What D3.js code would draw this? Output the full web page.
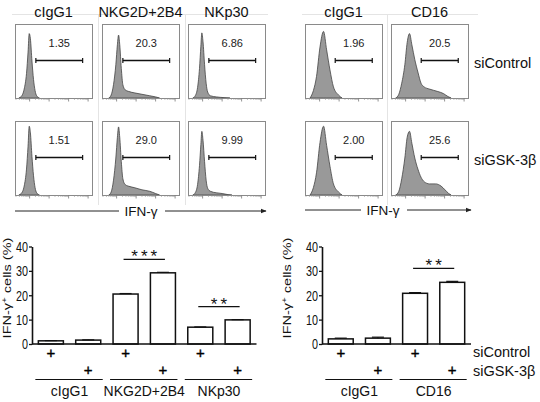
<!DOCTYPE html>
<html>
<head>
<meta charset="utf-8">
<script src="https://cdn.jsdelivr.net/npm/d3@7"></script>
<style>
body { margin: 0; background: #fff; }
svg { display: block; font-family: Arial, "Liberation Sans", sans-serif; }
</style>
</head>
<body>
<svg id="fig" width="540" height="402"></svg>
<script>
// ---- data ----
var markersL = ["cIgG1", "NKG2D+2B4", "NKp30"];
var markersR = ["cIgG1", "CD16"];
var siRNA = ["siControl", "siGSK-3\u03b2"];

// gate percentages, [row][panel]
var pctL = [["1.35", "20.3", "6.86"], ["1.51", "29.0", "9.99"]];
var pctR = [["1.96", "20.5"], ["2.00", "25.6"]];
// gate bounds, log10 IFN-g
var gateL = [2.32, 4.72];
var gateR = [2.8, 4.7];
var logTicks = [2, 3, 4, 5];

// histograms: [log10 fluorescence, % of max]
var histL = [
  [
    [[1.45,0],[1.57,2],[1.72,12],[1.84,33],[1.92,62],[1.98,87],[2.04,80],[2.12,50],[2.2,25],[2.28,10],[2.36,3],[2.5,0]],
    [[1.6,0],[1.72,4],[1.84,18],[1.96,45],[2.04,72],[2.1,85],[2.16,72],[2.24,40],[2.32,18],[2.44,11],[2.6,9],[2.9,7],[3.3,5],[3.7,3],[4.0,1.5],[4.2,0]],
    [[1.5,0],[1.62,3],[1.74,14],[1.84,40],[1.91,70],[1.96,88],[2.02,76],[2.1,45],[2.18,20],[2.26,8],[2.4,3],[2.7,1.5],[3.1,0.5],[3.4,0]]
  ],
  [
    [[1.45,0],[1.57,2],[1.72,12],[1.84,35],[1.92,66],[1.98,93],[2.04,84],[2.12,52],[2.2,26],[2.28,10],[2.36,3],[2.5,0]],
    [[1.6,0],[1.72,4],[1.84,20],[1.96,50],[2.04,78],[2.1,92],[2.16,78],[2.24,45],[2.32,22],[2.44,14],[2.6,12],[2.9,10],[3.3,7],[3.7,5],[4.0,2],[4.2,0]],
    [[1.5,0],[1.62,3],[1.74,14],[1.84,40],[1.91,68],[1.96,86],[2.02,74],[2.1,45],[2.18,20],[2.26,9],[2.4,5],[2.7,3],[3.0,2],[3.3,0.5],[3.5,0]]
  ]
];
var histR = [
  [
    [[1.51,0],[1.68,10],[1.84,29],[2.02,69],[2.2,90],[2.36,65],[2.53,38],[2.71,15],[2.97,4],[3.15,0]],
    [[1.49,0],[1.65,5],[1.8,20],[1.96,45],[2.08,75],[2.2,87],[2.32,72],[2.47,52],[2.63,35],[2.79,20],[2.95,15],[3.23,12],[3.62,9],[3.94,6],[4.17,2],[4.33,0]]
  ],
  [
    [[1.51,0],[1.68,10],[1.84,30],[2.02,71],[2.2,93],[2.36,67],[2.53,39],[2.71,15],[2.97,4],[3.15,0]],
    [[1.49,0],[1.65,5],[1.8,22],[1.96,50],[2.08,78],[2.2,86],[2.32,70],[2.47,50],[2.63,35],[2.79,24],[2.95,18],[3.23,15],[3.54,15],[3.82,12],[4.02,7],[4.21,2],[4.33,0]]
  ]
];

// bar charts (% IFN-g+ cells)
var groupsL = ["cIgG1", "NKG2D+2B4", "NKp30"];
var ctrlL = [1.3, 20.5, 6.9];
var gskL = [1.6, 29.2, 9.9];
var errCtrlL = [0.1, 0.2, 0.1];
var errGskL = [0.1, 0.2, 0.1];
var sigL = ["", "***", "**"];

var groupsR = ["cIgG1", "CD16"];
var ctrlR = [2.1, 20.8];
var gskR = [2.4, 25.3];
var errCtrlR = [0.3, 0.3];
var errGskR = [0.4, 0.4];
var sigR = ["", "**"];

var yTicks = [0, 10, 20, 30, 40];

// ---- drawing ----
var svg = d3.select("#fig");
svg.append("rect").attr("width", 540).attr("height", 402).attr("fill", "#fff");

var boxW = 77, boxH = 74;
var rowTop = [24, 121];

// faint panel guides
var guide = svg.append("g").attr("stroke", "#e4e4e4").attr("stroke-width", 1);
guide.append("line").attr("x1", 12).attr("x2", 268).attr("y1", 14.5).attr("y2", 14.5);
guide.append("line").attr("x1", 302).attr("x2", 478).attr("y1", 14.5).attr("y2", 14.5);
[98.5, 185.5, 387.5].forEach(function(x) {
  guide.append("line").attr("x1", x).attr("x2", x).attr("y1", 14).attr("y2", 205);
});

var hx = d3.scaleLinear().domain([1.25, 5.2]).range([0, boxW]);
var hy = d3.scaleLinear().domain([0, 100]).range([boxH, 0]);
var area = d3.area()
    .x(function(d) { return hx(d[0]); })
    .y0(boxH)
    .y1(function(d) { return hy(d[1]); })
    .curve(d3.curveMonotoneX);

function drawHist(left, top, data, gate, pct) {
  var g = svg.append("g").attr("transform", "translate(" + left + "," + top + ")");
  g.append("path").attr("d", area(data))
      .attr("fill", "#999").attr("stroke", "#444").attr("stroke-width", 0.8);
  g.append("rect").attr("x", 0.5).attr("y", 0.5).attr("width", boxW).attr("height", boxH)
      .attr("fill", "none").attr("stroke", "#8a8a8a").attr("stroke-width", 1);
  // log ticks along the bottom
  var minor = [];
  logTicks.forEach(function(t) {
    for (var k = 2; k < 10; k++) {
      var v = t - 1 + Math.log10(k);
      if (v > 1.25) minor.push(v);
    }
  });
  g.selectAll("line.mi").data(minor).enter().append("line")
      .attr("x1", function(d) { return hx(d); }).attr("x2", function(d) { return hx(d); })
      .attr("y1", boxH + 0.5).attr("y2", boxH + 2)
      .attr("stroke", "#999").attr("stroke-width", 0.6);
  g.selectAll("line.ma").data(logTicks).enter().append("line")
      .attr("x1", function(d) { return hx(d); }).attr("x2", function(d) { return hx(d); })
      .attr("y1", boxH + 0.5).attr("y2", boxH + 3.5)
      .attr("stroke", "#777").attr("stroke-width", 0.8);
  // gate
  var gy = 36.5;
  g.append("line").attr("x1", hx(gate[0])).attr("x2", hx(gate[1])).attr("y1", gy).attr("y2", gy)
      .attr("stroke", "#111").attr("stroke-width", 1.5);
  gate.forEach(function(v) {
    g.append("line").attr("x1", hx(v)).attr("x2", hx(v)).attr("y1", gy - 2.5).attr("y2", gy + 2.5)
        .attr("stroke", "#111").attr("stroke-width", 1.2);
  });
  g.append("text").attr("x", (hx(gate[0]) + hx(gate[1])) / 2).attr("y", 23)
      .attr("text-anchor", "middle").attr("font-size", 11).attr("fill", "#222").text(pct);
}

function panelLeft(x0, i) { return x0 + Math.round(i * 86.5); }

[0, 1].forEach(function(r) {
  markersL.forEach(function(m, i) {
    drawHist(panelLeft(15, i), rowTop[r], histL[r][i], gateL, pctL[r][i]);
  });
  markersR.forEach(function(m, i) {
    drawHist(305 + i * 86, rowTop[r], histR[r][i], gateR, pctR[r][i]);
  });
});

// titles
markersL.forEach(function(m, i) {
  svg.append("text").attr("x", panelLeft(15, i) + boxW / 2).attr("y", 17)
      .attr("text-anchor", "middle").attr("font-size", 14.5).attr("fill", "#111").text(m);
});
markersR.forEach(function(m, i) {
  svg.append("text").attr("x", 305 + i * 86 + boxW / 2).attr("y", 17)
      .attr("text-anchor", "middle").attr("font-size", 14.5).attr("fill", "#111").text(m);
});
// row labels
siRNA.forEach(function(s, r) {
  svg.append("text").attr("x", 474).attr("y", rowTop[r] + 44)
      .attr("font-size", 14.5).attr("fill", "#111").text(s);
});

// IFN-g arrows
svg.append("defs").append("marker").attr("id", "ah")
    .attr("viewBox", "0 0 10 10").attr("refX", 9).attr("refY", 5)
    .attr("markerWidth", 6).attr("markerHeight", 6).attr("orient", "auto")
  .append("path").attr("d", "M0,1L10,5L0,9z").attr("fill", "#222");

function arrow(x1, x2, xc, y) {
  svg.append("line").attr("x1", x1).attr("x2", xc - 22).attr("y1", y).attr("y2", y)
      .attr("stroke", "#222").attr("stroke-width", 1);
  svg.append("line").attr("x1", xc + 24).attr("x2", x2).attr("y1", y).attr("y2", y)
      .attr("stroke", "#222").attr("stroke-width", 1).attr("marker-end", "url(#ah)");
  svg.append("text").attr("x", xc).attr("y", y + 5).attr("text-anchor", "middle")
      .attr("font-size", 13.5).attr("fill", "#111").text("IFN-\u03b3");
}
arrow(15, 266, 141, 211);
arrow(305, 471, 383, 210);

// ---- bar charts ----
var y = d3.scaleLinear().domain([0, 40]).range([344, 246.5]);

function drawBars(axisX, endX, labelX, groups, ctrl, gsk, eC, eG, sig, showRows) {
  var rows = [];
  groups.forEach(function(gname, i) {
    rows.push({ key: gname + "|0", v: ctrl[i], e: eC[i], k: 0 });
    rows.push({ key: gname + "|1", v: gsk[i], e: eG[i], k: 1 });
  });
  var x = d3.scaleBand().domain(rows.map(function(d) { return d.key; }))
      .range([axisX, endX]).paddingInner(0.33).paddingOuter(0.17);
  var bw = x.bandwidth();
  var g = svg.append("g");

  g.selectAll("rect.bar").data(rows).enter().append("rect")
      .attr("x", function(d) { return x(d.key); })
      .attr("y", function(d) { return y(d.v); })
      .attr("width", bw)
      .attr("height", function(d) { return y(0) - y(d.v); })
      .attr("fill", "#fff").attr("stroke", "#111").attr("stroke-width", 1.5);
  // error bars
  g.selectAll("line.err").data(rows).enter().append("line")
      .attr("x1", function(d) { return x(d.key) + bw / 2; })
      .attr("x2", function(d) { return x(d.key) + bw / 2; })
      .attr("y1", function(d) { return y(d.v); })
      .attr("y2", function(d) { return y(d.v + d.e); })
      .attr("stroke", "#111").attr("stroke-width", 1.2);
  g.selectAll("line.cap").data(rows).enter().append("line")
      .attr("x1", function(d) { return x(d.key) + bw / 2 - 6; })
      .attr("x2", function(d) { return x(d.key) + bw / 2 + 6; })
      .attr("y1", function(d) { return y(d.v + d.e); })
      .attr("y2", function(d) { return y(d.v + d.e); })
      .attr("stroke", "#111").attr("stroke-width", 1.2);

  // axes
  var ax = g.append("g").attr("transform", "translate(" + axisX + ",0)")
      .call(d3.axisLeft(y).tickValues(yTicks).tickSize(3).tickSizeOuter(0).tickPadding(1));
  ax.select(".domain").attr("stroke", "#111").attr("stroke-width", 1.6);
  ax.selectAll(".tick line").attr("stroke", "#111").attr("stroke-width", 1.3);
  ax.selectAll(".tick text").attr("font-size", 15).attr("fill", "#111")
      .attr("font-family", "Arial, 'Liberation Sans', sans-serif")
      .attr("textLength", function(d) { return String(d).length * 6; })
      .attr("lengthAdjust", "spacingAndGlyphs");
  g.append("line").attr("x1", axisX).attr("x2", endX).attr("y1", y(0)).attr("y2", y(0))
      .attr("stroke", "#111").attr("stroke-width", 1.6);

  // y label
  var lab = g.append("text")
      .attr("transform", "translate(" + labelX + ",288) rotate(-90) scale(1,0.75)")
      .attr("text-anchor", "middle").attr("font-size", 14.5).attr("fill", "#111");
  lab.append("tspan").text("IFN-\u03b3");
  lab.append("tspan").attr("font-size", 10).attr("dy", -5).text("+");
  lab.append("tspan").attr("dy", 5).text(" cells (%)");

  // + rows
  g.selectAll("text.plus").data(rows).enter().append("text")
      .attr("x", function(d) { return x(d.key) + bw / 2; })
      .attr("y", function(d) { return d.k === 0 ? 358 : 375; })
      .attr("text-anchor", "middle").attr("font-size", 15)
      .attr("fill", "#000").attr("stroke", "#000").attr("stroke-width", 0.4).text("+");

  // group lines + labels
  groups.forEach(function(gname, i) {
    var a = x(gname + "|0"), b = x(gname + "|1") + bw;
    g.append("line").attr("x1", a - 3).attr("x2", b + 2).attr("y1", 379.5).attr("y2", 379.5)
        .attr("stroke", "#111").attr("stroke-width", 1.1);
    g.append("text").attr("x", (a + b) / 2).attr("y", 396).attr("text-anchor", "middle")
        .attr("font-size", 14).attr("fill", "#111").text(gname);
    if (sig[i]) {
      var top = y(Math.max(ctrl[i] + eC[i], gsk[i] + eG[i])) - 13;
      var c0 = x(gname + "|0") + bw / 2 - 2, c1 = x(gname + "|1") + bw / 2 + 2;
      g.append("line").attr("x1", c0).attr("x2", c1).attr("y1", top).attr("y2", top)
          .attr("stroke", "#111").attr("stroke-width", 1.1);
      g.append("text").attr("x", (c0 + c1) / 2 + 1.5).attr("y", top + 3).attr("text-anchor", "middle")
          .attr("font-size", 17).attr("letter-spacing", 3).attr("fill", "#111").text(sig[i]);
    }
  });

  if (showRows) {
    siRNA.forEach(function(s, r) {
      g.append("text").attr("x", 473).attr("y", r === 0 ? 357 : 376)
          .attr("font-size", 14.5).attr("fill", "#111").text(s);
    });
  }
}

drawBars(32, 256.5, 11, groupsL, ctrlL, gskL, errCtrlL, errGskL, sigL, false);
drawBars(322, 471, 291, groupsR, ctrlR, gskR, errCtrlR, errGskR, sigR, true);
</script>
</body>
</html>
